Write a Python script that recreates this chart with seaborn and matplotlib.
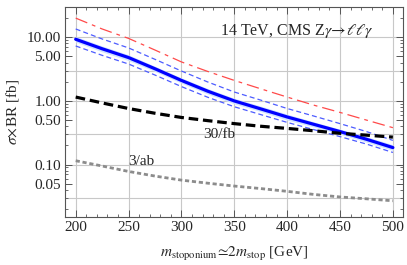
import numpy as np
import pandas as pd
import seaborn as sns
import matplotlib
matplotlib.use("Agg")
import matplotlib.pyplot as plt
from matplotlib.ticker import FixedLocator, NullFormatter, MultipleLocator, LogLocator

# stoponium mass grid [GeV]
mass = [200, 225, 250, 275, 300, 325, 350, 375, 400, 425, 450, 475, 500]

# sigma x BR [fb]
red_curve = [20, 13.5, 9.6, 6.3, 4.1, 2.9, 2.1, 1.55, 1.15, 0.86, 0.66, 0.5, 0.38]
blue_central = [9.3, 6.6, 4.8, 3.2, 2.1, 1.42, 1.0, 0.75, 0.56, 0.43, 0.33, 0.25, 0.185]
blue_upper = [13.5, 9.4, 6.8, 4.5, 2.95, 1.98, 1.38, 1.03, 0.76, 0.58, 0.44, 0.33, 0.24]
blue_lower = [7.3, 5.2, 3.8, 2.55, 1.68, 1.14, 0.81, 0.61, 0.46, 0.355, 0.275, 0.21, 0.155]
band_hi = [10.3, 7.3, 5.3, 3.5, 2.3, 1.56, 1.1, 0.83, 0.62, 0.47, 0.36, 0.275, 0.205]
band_lo = [8.4, 5.9, 4.3, 2.9, 1.9, 1.28, 0.9, 0.68, 0.5, 0.39, 0.3, 0.225, 0.167]
limit_30fb = [1.15, 0.93, 0.76, 0.64, 0.55, 0.49, 0.44, 0.40, 0.37, 0.34, 0.31, 0.29, 0.27]
limit_3ab = [0.115, 0.095, 0.078, 0.066, 0.057, 0.051, 0.046, 0.042, 0.038, 0.034, 0.031, 0.029, 0.027]

y_ticks = [10, 5, 1, 0.5, 0.1, 0.05]
y_tick_labels = ["10.00", "5.00", "1.00", "0.50", "0.10", "0.05"]
y_grid = [10, 3, 1, 0.3, 0.1, 0.03]
x_ticks = [200, 250, 300, 350, 400, 450, 500]

df = pd.DataFrame({"mass": mass, "red": red_curve, "central": blue_central,
                   "upper": blue_upper, "lower": blue_lower,
                   "lim30": limit_30fb, "lim3": limit_3ab})

sns.set_style("ticks")
plt.rcParams["font.family"] = ["Liberation Serif", "DejaVu Serif"]
plt.rcParams["mathtext.fontset"] = "stix"

fig = plt.figure(figsize=(4.07, 2.65), dpi=100)
ax = fig.add_axes([0.16, 0.181, 0.83, 0.793])

# grid lines
for g in x_ticks:
    ax.axvline(g, color="#c8c8c8", lw=0.8, zorder=0)
for g in y_grid:
    ax.axhline(g, color="#c8c8c8", lw=0.8, zorder=0)

# uncertainty band around central prediction
ax.fill_between(mass, band_lo, band_hi, color="#cfe2ff", lw=0, zorder=1)

sns.lineplot(data=df, x="mass", y="red", ax=ax, color="#ff4a4a", lw=0.9, zorder=3)
ax.lines[-1].set_dashes([10, 4, 3, 4])
sns.lineplot(data=df, x="mass", y="upper", ax=ax, color="#4d5cff", lw=0.9, zorder=3)
ax.lines[-1].set_dashes([4, 2.5])
sns.lineplot(data=df, x="mass", y="lower", ax=ax, color="#4d5cff", lw=0.9, zorder=3)
ax.lines[-1].set_dashes([4, 2.5])
sns.lineplot(data=df, x="mass", y="central", ax=ax, color="#0000ff", lw=2.3, zorder=4)
sns.lineplot(data=df, x="mass", y="lim30", ax=ax, color="black", lw=2.3, zorder=4)
ax.lines[-1].set_dashes([3, 1.5])
sns.lineplot(data=df, x="mass", y="lim3", ax=ax, color="#8c8c8c", lw=2.0, zorder=4)
ax.lines[-1].set_dashes([1.5, 1])

ax.set_yscale("log")
ax.set_xlim(190, 509.5)
ax.set_ylim(0.015, 30)

ax.xaxis.set_major_locator(FixedLocator(x_ticks))
ax.xaxis.set_minor_locator(MultipleLocator(10))
ax.yaxis.set_major_locator(FixedLocator(y_ticks))
ax.set_yticklabels(y_tick_labels)
ax.yaxis.set_minor_locator(LogLocator(base=10, subs=np.arange(2, 10)))
ax.yaxis.set_minor_formatter(NullFormatter())

ax.tick_params(which="both", direction="in", top=True, right=True,
               color="#555555", labelsize=11, pad=3)
ax.tick_params(which="major", length=5, width=0.7)
ax.tick_params(which="minor", length=2.5, width=0.6)
for s in ax.spines.values():
    s.set_color("#555555")
    s.set_linewidth(0.8)

ax.set_xlabel(r"$m_{\rm stoponium}\!\simeq\!2m_{\rm stop}$ [GeV]", fontsize=11, labelpad=8)
ax.set_ylabel(r"$\sigma\!\times\!$BR [fb]", fontsize=11, labelpad=4)

ax.text(409, 12.4, r"14 TeV, CMS Z$\gamma\!\rightarrow\!\ell\ell\gamma$", fontsize=11.5,
        ha="center", va="center")
ax.text(336, 0.30, "30/fb", fontsize=11, ha="center", va="center")
ax.text(262, 0.112, "3/ab", fontsize=11, ha="center", va="center")

fig.savefig("out.png", dpi=100)
